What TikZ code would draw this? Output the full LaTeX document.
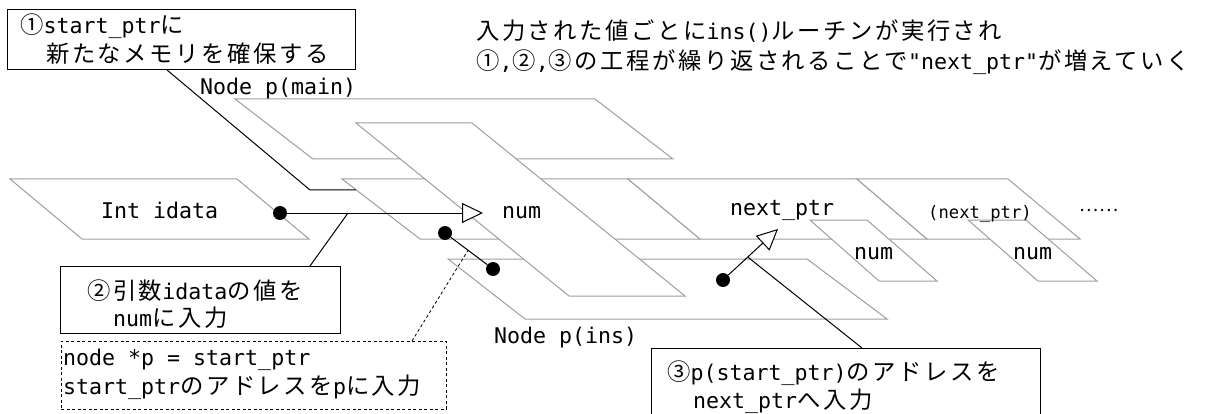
\documentclass[tikz,border=0pt]{standalone}
\usepackage{fontspec}
\setmonofont{DejaVu Sans Mono}
\renewcommand\familydefault{\ttdefault}
\newfontfamily\jpfont[Scale=1.08, LetterSpace=11]{Noto Sans CJK JP}
\newfontfamily\jpplain{Noto Sans CJK JP}
\newcommand\J[1]{{\jpfont #1}}
\usetikzlibrary{arrows.meta,calc}
\begin{document}
\begin{tikzpicture}[x=1pt,y=-1pt,
  plane/.style={draw=black!38, fill=white, line width=1pt},
  conn/.style={draw=black, line width=1pt},
  dotnode/.style={circle, fill=black, draw=none, inner sep=0pt, minimum size=14pt},
  lbl/.style={anchor=base west, inner sep=0pt, font=\fontsize{21.6}{27}\selectfont},
  smalllbl/.style={anchor=base west, inner sep=0pt, font=\fontsize{17.2}{20}\selectfont},
  frame/.style={draw=black, line width=1pt, fill=white, inner sep=0pt, anchor=north west},
  dashframe/.style={frame, line width=0.8pt, dash pattern=on 3pt off 2.5pt},
  opentip/.style={-{Triangle[fill=white, length=21pt, width=20pt]}},
]
\useasboundingbox (0,0) rectangle (1217,414);
\clip (0,0) rectangle (1217,414);

% ---------- planes ----------
\draw[plane] (235,99) -- (595,99) -- (673,159) -- (313,159) -- cycle;      % Node p(main)
\draw[plane] (342,179) -- (628,179) -- (700,239) -- (420,239) -- cycle;    % band 1
\draw[plane] (628,179) -- (857,179) -- (927,239) -- (700,239) -- cycle;    % band 2
\draw[plane] (857,179) -- (1008,179) -- (1080,239) -- (927,239) -- cycle;  % band 3
\draw[plane] (448,259) -- (807,259) -- (887,319) -- (525,319) -- cycle;    % Node p(ins)
\draw[plane] (10,179) -- (237,179) -- (309,239) -- (82,239) -- cycle;      % Int idata
\draw[plane] (356,123) -- (472,123) -- (685,296) -- (569,296) -- cycle;    % tall
\draw[plane] (810,220) -- (867,220) -- (937,281) -- (879,281) -- cycle;    % num 1
\draw[plane] (968,220) -- (1026,220) -- (1097,281) -- (1038,281) -- cycle; % num 2

% ---------- labels ----------
\node[lbl] (lmain) at (200,95) {Node p(main)};
\node[lbl] (lins) at (494,343) {Node p(ins)};
\node[lbl] (lint) at (101,218) {Int idata};
\node[lbl] (lnum) at (502,218) {num};
\node[lbl] (lnext) at (730,215) {next\_ptr};
\node[smalllbl] (lnext2) at (928,218) {(next\_ptr)};
\node[lbl] (lnum1) at (854,259) {num};
\node[lbl] (lnum2) at (1013,259) {num};
\node[inner sep=0pt, font=\jpplain\fontsize{18}{20}\selectfont] (more) at (1099,210) {……};

% ---------- top text ----------
\node[lbl] (top1) at (476,40) {\J{入力された値ごとに}ins()\J{ルーチンが実行され}};
\node[lbl] (top2) at (476,70) {\J{①},\J{②},\J{③の工程が繰り返されることで}"next\_ptr"\J{が増えていく}};

% ---------- boxes ----------
\node[frame, minimum width=348pt, minimum height=60pt] (b1) at (7,9) {};
\node[lbl] (b1t1) at (20,34) {\J{①}start\_ptr\J{に}};
\node[lbl] (b1t2) at (46,63) {\J{新たなメモリを確保する}};

\node[frame, minimum width=280pt, minimum height=67pt] (b2) at (60,266) {};
\node[lbl] (b2t1) at (87,299) {\J{②引数}idata\J{の値を}};
\node[lbl] (b2t2) at (113,326) {num\J{に入力}};

\node[dashframe, minimum width=385pt, minimum height=68pt] (b3) at (61,341) {};
\node[lbl] (b3t1) at (63,365) {node *p = start\_ptr};
\node[lbl] (b3t2) at (63,394) {start\_ptr\J{のアドレスを}p\J{に入力}};

\node[frame, minimum width=389pt, minimum height=92pt] (b4) at (651,348) {};
\node[lbl] (b4t1) at (667,380) {\J{③}p(start\_ptr)\J{のアドレスを}};
\node[lbl] (b4t2) at (693,408) {next\_ptr\J{へ入力}};

% ---------- dots and connectors ----------
\node[dotnode] (dA) at (280,213) {};
\node[dotnode] (dB) at (445,233) {};
\node[dotnode] (dC) at (493,269) {};
\node[dotnode] (dD) at (723,280) {};
\coordinate (tipN) at (483,213);
\coordinate (tipP) at (778,229);
\coordinate (bend1) at (310,190);
\coordinate (end1) at (356,190);

\draw[conn] ($(b1.south west)+(160,0)$) -- (bend1) -- (end1);
\draw[conn, opentip] (dA) -- (tipN);
\draw[conn] ($(b2.north west)+(250,0)$) -- ($(dA.center)!0.335!(tipN)$);
\draw[conn] (dB) -- (dC);
\draw[conn, line width=0.8pt, dash pattern=on 3pt off 2.5pt] ($(b3.north west)+(351,0)$) -- ($(dB.center)!0.48!(dC.center)$);
\draw[conn, opentip] (dD) -- (tipP);
\draw[conn] ($(dD.center)!0.45!(tipP)$) -- ($(b4.north west)+(211,0)$);
\end{tikzpicture}
\end{document}
